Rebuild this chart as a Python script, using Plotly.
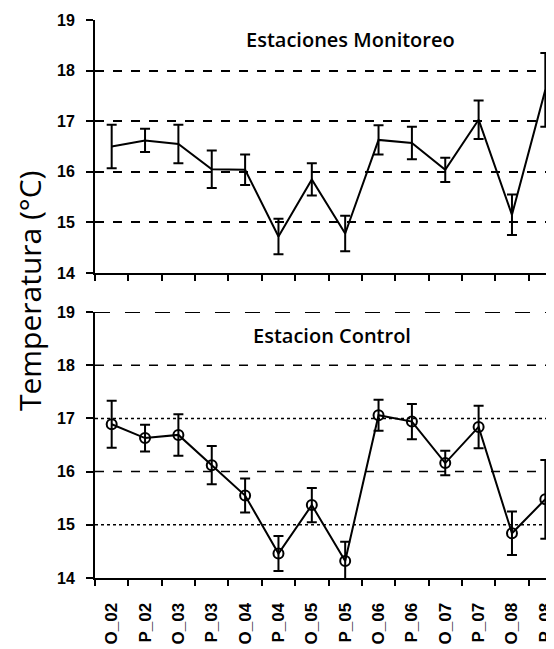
import plotly.graph_objects as go

stations = ["O_02", "P_02", "O_03", "P_03", "O_04", "P_04", "O_05",
            "P_05", "O_06", "P_06", "O_07", "P_07", "O_08", "P_08"]

monitor_mean = [16.50, 16.62, 16.55, 16.05, 16.04, 14.72, 15.85,
                14.78, 16.63, 16.57, 16.04, 17.03, 15.15, 17.62]
monitor_err = [0.43, 0.23, 0.38, 0.37, 0.30, 0.35, 0.32,
               0.35, 0.29, 0.32, 0.24, 0.38, 0.40, 0.73]

control_mean = [16.89, 16.63, 16.69, 16.12, 15.55, 14.46, 15.37,
                14.32, 17.06, 16.94, 16.16, 16.84, 14.84, 15.48]
control_err = [0.44, 0.25, 0.39, 0.36, 0.32, 0.33, 0.32,
               0.36, 0.29, 0.33, 0.23, 0.40, 0.41, 0.74]

y_ticks = [14, 15, 16, 17, 18, 19]
control_grid = [(15, "dot", 1.5), (16, "dash", 1.5), (17, "dot", 1.5),
                (18, "dash", 1.5), (19, "longdash", 2)]

fig = go.Figure()

fig.add_trace(go.Scatter(
    x=stations, y=monitor_mean, mode="lines",
    line=dict(color="black", width=2),
    error_y=dict(type="data", array=monitor_err, color="black", thickness=2, width=5),
    xaxis="x", yaxis="y", showlegend=False))

fig.add_trace(go.Scatter(
    x=stations, y=control_mean, mode="lines+markers",
    line=dict(color="black", width=2),
    marker=dict(symbol="circle-open", size=10, color="black", line=dict(width=2)),
    error_y=dict(type="data", array=control_err, color="black", thickness=2, width=5),
    xaxis="x2", yaxis="y2", showlegend=False))

xrange = [-0.5, 13.26]
common_x = dict(type="category", range=xrange, showline=True, linecolor="black",
                linewidth=2, ticks="outside", ticklen=6, tickwidth=1.5,
                tickcolor="black", tickson="boundaries", showgrid=False,
                zeroline=False, fixedrange=True)
common_y = dict(range=[14, 19], tickvals=y_ticks, showline=True, linecolor="black",
                linewidth=2, ticks="outside", ticklen=7, tickwidth=1.5,
                tickcolor="black", zeroline=False, ticklabelstandoff=8,
                tickfont=dict(family="Liberation Sans", size=16, color="black", weight="bold"))

fig.update_layout(
    width=546, height=641,
    margin=dict(l=87, r=0, t=12, b=71, autoexpand=False),
    plot_bgcolor="white", paper_bgcolor="white",
    xaxis=dict(**common_x, domain=[0, 1], anchor="y", showticklabels=False),
    yaxis=dict(**common_y, domain=[0.5466, 1], anchor="x",
               showgrid=True, gridcolor="black", gridwidth=2, griddash="dash"),
    xaxis2=dict(**common_x, domain=[0, 1], anchor="y2", tickangle=-90,
                ticklabelstandoff=16,
                tickfont=dict(family="Liberation Sans", size=17, color="black", weight="bold")),
    yaxis2=dict(**common_y, domain=[0, 0.4767], anchor="x2", showgrid=False),
)

for val, style, w in control_grid:
    fig.add_shape(type="line", xref="x2 domain", yref="y2", x0=0, x1=1, y0=val, y1=val,
                  line=dict(color="black", width=w, dash=style), layer="below")

fig.add_annotation(text="Estaciones Monitoreo", xref="x domain", yref="y domain",
                   x=0.556, y=0.921, xanchor="center", yanchor="middle", showarrow=False,
                   font=dict(family="Open Sans", size=20, color="black", weight=600))
fig.add_annotation(text="Estacion Control", xref="x2 domain", yref="y2 domain",
                   x=0.516, y=0.91, xanchor="center", yanchor="middle", showarrow=False,
                   font=dict(family="Open Sans", size=20, color="black", weight=600))
fig.add_annotation(text="Temperatura (°C)", xref="paper", yref="paper",
                   x=-0.1438, xanchor="center", y=0.516, yanchor="middle",
                   textangle=-90, showarrow=False,
                   font=dict(family="Open Sans", size=30, color="black"))

fig.write_html("out.html")
